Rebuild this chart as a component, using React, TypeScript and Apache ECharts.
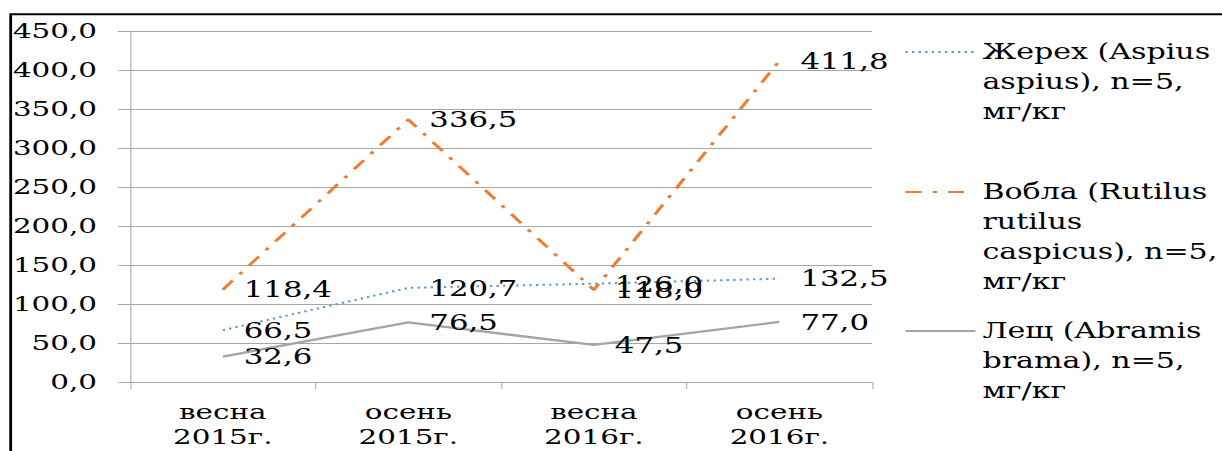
import React, { useEffect, useRef } from 'react';
import * as echarts from 'echarts';

// Season / year categories
const categories = ['весна\n2015г.', 'осень\n2015г.', 'весна\n2016г.', 'осень\n2016г.'];

// Series names (as printed in the legend)
const nameZherekh = 'Жерех (Aspius\naspius), n=5,\nмг/кг';
const nameVobla = 'Вобла (Rutilus\nrutilus\ncaspicus), n=5,\nмг/кг';
const nameLeshch = 'Лещ (Abramis\nbrama), n=5,\nмг/кг';

// Concentrations, mg/kg
const zherekh = [66.5, 120.7, 126.0, 132.5];
const vobla = [118.4, 336.5, 118.0, 411.8];
const leshch = [32.6, 76.5, 47.5, 77.0];

// Value axis range
const yMin = 0;
const yMax = 450;
const yStep = 50;

const W = 1222;
const H = 451;
const S = 1.4; // horizontal stretch of the drawing
const CW = W / S;

const FONT = 'DejaVu Serif';
const fmt = (v: number) => v.toFixed(1).replace('.', ',');

// One legend block per series; the icon sits on the first text line,
// so the text is padded with leading blank lines to centre that line on the icon.
const legendFor = (name: string, lines: number, iconY: number) => {
  const lh = 30;
  const textH = (2 * lines - 1) * lh;
  return {
    data: [name],
    orient: 'vertical',
    left: 904 / S,
    top: iconY - textH / 2,
    padding: 0,
    itemWidth: 50,
    itemHeight: 14,
    selectedMode: false,
    itemStyle: { opacity: 0 },
    formatter: (n: string) => '\n'.repeat(lines - 1) + n,
    textStyle: {
      fontFamily: FONT,
      fontSize: 21.5,
      lineHeight: lh,
      color: '#000',
    },
  };
};

const labelStyle = {
  show: true,
  position: 'right',
  distance: 15,
  color: '#000',
  fontFamily: FONT,
  fontSize: 22,
  formatter: (p: any) => fmt(p.value),
};

export default function App() {
  const ref = useRef<HTMLDivElement>(null);

  useEffect(() => {
    const chart = echarts.init(ref.current!, null, { renderer: 'svg' });
    chart.setOption({
      animation: false,
      backgroundColor: '#fff',
      textStyle: { fontFamily: FONT, color: '#000' },
      grid: {
        left: 130 / S,
        right: CW - 872 / S,
        top: 31,
        bottom: 69,
        containLabel: false,
        outerBoundsMode: 'none',
      },
      legend: [
        legendFor(nameZherekh, 3, 52),
        legendFor(nameVobla, 4, 192),
        legendFor(nameLeshch, 3, 331),
      ],
      xAxis: {
        type: 'category',
        data: categories,
        boundaryGap: true,
        axisLine: { show: true, lineStyle: { color: '#a6a6a6', width: 1 } },
        axisTick: { show: true, length: 7, lineStyle: { color: '#a6a6a6', width: 0.75 } },
        axisLabel: {
          margin: 17.5,
          color: '#000',
          fontFamily: FONT,
          fontSize: 21,
          lineHeight: 25,
          interval: 0,
        },
        splitLine: { show: false },
      },
      yAxis: {
        type: 'value',
        min: yMin,
        max: yMax,
        interval: yStep,
        axisLine: { show: true, lineStyle: { color: '#a6a6a6', width: 0.75 } },
        axisTick: { show: true, length: 12 / S, lineStyle: { color: '#a6a6a6', width: 1 } },
        axisLabel: {
          margin: 33 / S,
          color: '#000',
          fontFamily: FONT,
          fontSize: 21,
          formatter: (v: number) => fmt(v),
        },
        splitLine: { show: true, lineStyle: { color: '#a6a6a6', width: 1 } },
      },
      graphic: [
        {
          type: 'polyline',
          silent: true,
          shape: { points: [[10.7 / S, H + 10], [10.7 / S, 14.3], [CW + 10, 14.3]] },
          style: { stroke: '#000', lineWidth: 2, fill: 'none' },
        },
      ],
      series: [
        {
          name: nameZherekh,
          type: 'line',
          data: zherekh,
          symbol: 'circle',
          symbolSize: 0,
          lineStyle: { color: '#5b9bd5', width: 2, type: [1.7, 3] },
          itemStyle: { color: '#5b9bd5' },
          label: labelStyle,
        },
        {
          name: nameVobla,
          type: 'line',
          data: vobla,
          symbol: 'circle',
          symbolSize: 0,
          lineStyle: { color: '#ed7d31', width: 2.5, type: [11.5, 8, 3, 8] },
          itemStyle: { color: '#ed7d31' },
          label: labelStyle,
        },
        {
          name: nameLeshch,
          type: 'line',
          data: leshch,
          symbol: 'circle',
          symbolSize: 0,
          lineStyle: { color: '#a5a5a5', width: 2.3, type: 'solid' },
          itemStyle: { color: '#a5a5a5' },
          label: labelStyle,
        },
      ],
    });
    return () => chart.dispose();
  }, []);

  return (
    <div
      style={{
        position: 'fixed',
        left: 0,
        top: 0,
        width: W,
        height: H,
        overflow: 'hidden',
        background: '#fff',
      }}
    >
      <div
        ref={ref}
        style={{ width: CW, height: H, transform: `scaleX(${S})`, transformOrigin: '0 0' }}
      />
    </div>
  );
}
